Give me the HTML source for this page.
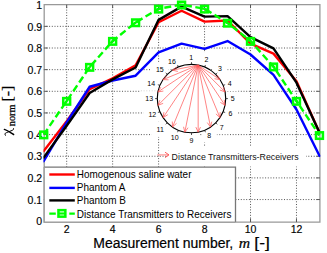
<!DOCTYPE html><html><head><meta charset="utf-8"><style>html,body{margin:0;padding:0;background:#fff;width:327px;height:253px;overflow:hidden}svg{display:block}</style></head><body>
<svg width="327" height="253" viewBox="0 0 327 253">
<rect width="327" height="253" fill="#fff"/>
<path d="M43.70 199.55H319.46 M43.70 177.90H319.46 M43.70 156.25H319.46 M43.70 134.60H319.46 M43.70 112.95H319.46 M43.70 91.30H319.46 M43.70 69.65H319.46 M43.70 48.00H319.46 M43.70 26.35H319.46 M66.68 221.20V4.70 M112.64 221.20V4.70 M158.60 221.20V4.70 M204.56 221.20V4.70 M250.52 221.20V4.70 M296.48 221.20V4.70" stroke="#555" stroke-width="1" stroke-dasharray="1 1.7" fill="none"/>
<text x="42.2" y="225.35" style="font-family:'Liberation Sans',sans-serif" font-size="10.5" text-anchor="end" fill="#000" stroke="#000" stroke-width="0.15">0</text>
<text x="42.2" y="203.70" style="font-family:'Liberation Sans',sans-serif" font-size="10.5" text-anchor="end" fill="#000" stroke="#000" stroke-width="0.15">0.1</text>
<text x="42.2" y="182.05" style="font-family:'Liberation Sans',sans-serif" font-size="10.5" text-anchor="end" fill="#000" stroke="#000" stroke-width="0.15">0.2</text>
<text x="42.2" y="160.40" style="font-family:'Liberation Sans',sans-serif" font-size="10.5" text-anchor="end" fill="#000" stroke="#000" stroke-width="0.15">0.3</text>
<text x="42.2" y="138.75" style="font-family:'Liberation Sans',sans-serif" font-size="10.5" text-anchor="end" fill="#000" stroke="#000" stroke-width="0.15">0.4</text>
<text x="42.2" y="117.10" style="font-family:'Liberation Sans',sans-serif" font-size="10.5" text-anchor="end" fill="#000" stroke="#000" stroke-width="0.15">0.5</text>
<text x="42.2" y="95.45" style="font-family:'Liberation Sans',sans-serif" font-size="10.5" text-anchor="end" fill="#000" stroke="#000" stroke-width="0.15">0.6</text>
<text x="42.2" y="73.80" style="font-family:'Liberation Sans',sans-serif" font-size="10.5" text-anchor="end" fill="#000" stroke="#000" stroke-width="0.15">0.7</text>
<text x="42.2" y="52.15" style="font-family:'Liberation Sans',sans-serif" font-size="10.5" text-anchor="end" fill="#000" stroke="#000" stroke-width="0.15">0.8</text>
<text x="42.2" y="30.50" style="font-family:'Liberation Sans',sans-serif" font-size="10.5" text-anchor="end" fill="#000" stroke="#000" stroke-width="0.15">0.9</text>
<text x="42.2" y="8.85" style="font-family:'Liberation Sans',sans-serif" font-size="10.5" text-anchor="end" fill="#000" stroke="#000" stroke-width="0.15">1</text>
<text x="66.68" y="233.0" style="font-family:'Liberation Sans',sans-serif" font-size="10.5" text-anchor="middle" fill="#000" stroke="#000" stroke-width="0.15">2</text>
<text x="112.64" y="233.0" style="font-family:'Liberation Sans',sans-serif" font-size="10.5" text-anchor="middle" fill="#000" stroke="#000" stroke-width="0.15">4</text>
<text x="158.60" y="233.0" style="font-family:'Liberation Sans',sans-serif" font-size="10.5" text-anchor="middle" fill="#000" stroke="#000" stroke-width="0.15">6</text>
<text x="204.56" y="233.0" style="font-family:'Liberation Sans',sans-serif" font-size="10.5" text-anchor="middle" fill="#000" stroke="#000" stroke-width="0.15">8</text>
<text x="250.52" y="233.0" style="font-family:'Liberation Sans',sans-serif" font-size="10.5" text-anchor="middle" fill="#000" stroke="#000" stroke-width="0.15">10</text>
<text x="296.48" y="233.0" style="font-family:'Liberation Sans',sans-serif" font-size="10.5" text-anchor="middle" fill="#000" stroke="#000" stroke-width="0.15">12</text>
<path d="M44.2 4.7H319.9V222.1H44.2Z" fill="none" stroke="#999" stroke-width="1.3"/>
<path d="M44.2 199.55h3.5M319.9 199.55h-3.5M44.2 177.90h3.5M319.9 177.90h-3.5M44.2 156.25h3.5M319.9 156.25h-3.5M44.2 134.60h3.5M319.9 134.60h-3.5M44.2 112.95h3.5M319.9 112.95h-3.5M44.2 91.30h3.5M319.9 91.30h-3.5M44.2 69.65h3.5M319.9 69.65h-3.5M44.2 48.00h3.5M319.9 48.00h-3.5M44.2 26.35h3.5M319.9 26.35h-3.5M66.68 222.1v-3.5M66.68 4.7v3.5M112.64 222.1v-3.5M112.64 4.7v3.5M158.60 222.1v-3.5M158.60 4.7v3.5M204.56 222.1v-3.5M204.56 4.7v3.5M250.52 222.1v-3.5M250.52 4.7v3.5M296.48 222.1v-3.5M296.48 4.7v3.5" stroke="#555" stroke-width="1" fill="none"/>
<clipPath id="cp"><rect x="43.5" y="0" width="277" height="223"/></clipPath><g clip-path="url(#cp)">
<polyline points="43.70,151.05 66.68,121.18 89.66,89.13 112.64,78.31 135.62,65.32 158.60,22.24 181.58,10.76 204.56,21.59 227.54,20.50 250.52,43.67 273.50,53.63 296.48,81.34 319.46,132.44" fill="none" stroke="#f00" stroke-width="2.4" stroke-linejoin="round" stroke-linecap="round"/>
<polyline points="43.70,161.23 66.68,122.48 89.66,86.75 112.64,80.47 135.62,75.71 158.60,52.33 181.58,43.67 204.56,48.87 227.54,41.07 250.52,54.49 273.50,74.85 296.48,109.49 319.46,155.82" fill="none" stroke="#00f" stroke-width="2.4" stroke-linejoin="round" stroke-linecap="round"/>
<polyline points="43.70,157.55 66.68,125.72 89.66,93.03 112.64,79.39 135.62,67.48 158.60,19.85 181.58,6.65 204.56,16.61 227.54,16.17 250.52,37.17 273.50,48.43 296.48,82.64 319.46,132.44" fill="none" stroke="#000" stroke-width="2.4" stroke-linejoin="round" stroke-linecap="round"/>
<polyline points="43.70,134.60 66.68,101.04 89.66,67.05 112.64,41.07 135.62,22.45 158.60,8.81 181.58,4.70 204.56,8.81 227.54,22.89 250.52,41.07 273.50,66.62 296.48,101.04 319.46,135.25" fill="none" stroke="#0f0" stroke-width="2.4" stroke-dasharray="7 3.5" stroke-linejoin="round"/>
</g>
<path d="M43.70 134.60L45.40 132.12 M66.68 101.04L64.98 103.52 M66.68 101.04L68.36 98.56 M89.66 67.05L87.98 69.54 M89.66 67.05L91.65 64.80 M112.64 41.07L110.65 43.32 M112.64 41.07L114.97 39.18 M135.62 22.45L133.29 24.34 M135.62 22.45L138.20 20.92 M158.60 8.81L156.02 10.34 M158.60 8.81L161.55 8.28 M181.58 4.70L178.63 5.23 M181.58 4.70L184.53 5.23 M204.56 8.81L201.61 8.28 M204.56 8.81L207.12 10.38 M227.54 22.89L224.98 21.32 M227.54 22.89L229.89 24.75 M250.52 41.07L248.17 39.21 M250.52 41.07L252.53 43.30 M273.50 66.62L271.49 64.39 M273.50 66.62L275.17 69.11 M296.48 101.04L294.81 98.55 M296.48 101.04L298.15 103.53 M319.46 135.25L317.79 132.76" stroke="#0f0" stroke-width="2.4" fill="none"/>
<rect x="40.25" y="131.65" width="6.90" height="6.50" fill="none" stroke="#0f0" stroke-width="2.5"/>
<rect x="63.23" y="98.09" width="6.90" height="6.50" fill="none" stroke="#0f0" stroke-width="2.5"/>
<rect x="86.21" y="64.10" width="6.90" height="6.50" fill="none" stroke="#0f0" stroke-width="2.5"/>
<rect x="109.19" y="38.12" width="6.90" height="6.50" fill="none" stroke="#0f0" stroke-width="2.5"/>
<rect x="132.17" y="19.50" width="6.90" height="6.50" fill="none" stroke="#0f0" stroke-width="2.5"/>
<rect x="155.15" y="5.86" width="6.90" height="6.50" fill="none" stroke="#0f0" stroke-width="2.5"/>
<rect x="178.13" y="1.75" width="6.90" height="6.50" fill="none" stroke="#0f0" stroke-width="2.5"/>
<rect x="201.11" y="5.86" width="6.90" height="6.50" fill="none" stroke="#0f0" stroke-width="2.5"/>
<rect x="224.09" y="19.94" width="6.90" height="6.50" fill="none" stroke="#0f0" stroke-width="2.5"/>
<rect x="247.07" y="38.12" width="6.90" height="6.50" fill="none" stroke="#0f0" stroke-width="2.5"/>
<rect x="270.05" y="63.67" width="6.90" height="6.50" fill="none" stroke="#0f0" stroke-width="2.5"/>
<rect x="293.03" y="98.09" width="6.90" height="6.50" fill="none" stroke="#0f0" stroke-width="2.5"/>
<rect x="316.01" y="132.30" width="6.90" height="6.50" fill="none" stroke="#0f0" stroke-width="2.5"/>
<rect x="183.75" y="50.20" width="14.90" height="14.20" fill="#fff"/>
<rect x="199.05" y="52.20" width="14.90" height="14.20" fill="#fff"/>
<rect x="212.45" y="61.30" width="14.90" height="14.20" fill="#fff"/>
<rect x="222.15" y="76.80" width="14.90" height="14.20" fill="#fff"/>
<rect x="225.15" y="91.70" width="14.90" height="14.20" fill="#fff"/>
<rect x="222.95" y="105.90" width="14.90" height="14.20" fill="#fff"/>
<rect x="214.35" y="120.00" width="14.90" height="14.20" fill="#fff"/>
<rect x="201.85" y="128.40" width="14.90" height="14.20" fill="#fff"/>
<rect x="184.05" y="133.00" width="14.90" height="14.20" fill="#fff"/>
<rect x="165.70" y="130.60" width="18.00" height="14.20" fill="#fff"/>
<rect x="151.20" y="122.70" width="18.00" height="14.20" fill="#fff"/>
<rect x="143.30" y="107.30" width="18.00" height="14.20" fill="#fff"/>
<rect x="140.20" y="91.10" width="18.00" height="14.20" fill="#fff"/>
<rect x="142.20" y="76.00" width="18.00" height="14.20" fill="#fff"/>
<rect x="150.80" y="61.90" width="18.00" height="14.20" fill="#fff"/>
<rect x="163.00" y="53.90" width="18.00" height="14.20" fill="#fff"/>
<circle cx="191.5" cy="98.6" r="34.2" fill="#fff" stroke="#000" stroke-width="1.15"/>
<path d="M191.50 64.40L191.50 62.20M204.59 67.00L205.43 64.97M215.68 74.42L217.24 72.86M223.10 85.51L225.13 84.67M225.70 98.60L227.90 98.60M223.10 111.69L225.13 112.53M215.68 122.78L217.24 124.34M204.59 130.20L205.43 132.23M191.50 132.80L191.50 135.00M178.41 130.20L177.57 132.23M167.32 122.78L165.76 124.34M159.90 111.69L157.87 112.53M157.30 98.60L155.10 98.60M159.90 85.51L157.87 84.67M167.32 74.42L165.76 72.86M178.41 67.00L177.57 64.97" stroke="#222" stroke-width="0.8" fill="none"/>
<path d="M198.17 65.06L219.94 79.60 M214.50 78.73L219.94 79.60L217.06 74.91 M198.17 65.06L225.04 91.93 M219.88 90.02L225.04 91.93L223.13 86.77 M198.17 65.06L225.04 105.27 M220.35 102.39L225.04 105.27L224.18 99.84 M198.17 65.06L219.94 117.60 M215.90 113.86L219.94 117.60L220.15 112.10 M198.17 65.06L210.50 127.04 M207.27 122.58L210.50 127.04L211.78 121.68 M198.17 65.06L198.17 132.14 M195.87 127.14L198.17 132.14L200.47 127.14 M198.17 65.06L184.83 132.14 M183.55 126.79L184.83 132.14L188.06 127.69 M198.17 65.06L172.50 127.04 M172.29 121.54L172.50 127.04L176.54 123.30 M198.17 65.06L163.06 117.60 M163.93 112.17L163.06 117.60L167.75 114.72 M198.17 65.06L157.96 105.27 M159.87 100.11L157.96 105.27L163.12 103.36 M198.17 65.06L157.96 91.93 M160.84 87.24L157.96 91.93L163.39 91.06 M198.17 65.06L163.06 79.60 M166.80 75.56L163.06 79.60L168.56 79.81 M198.17 65.06L172.50 70.16 M176.95 66.93L172.50 70.16L177.85 71.44" stroke="#ff5050" stroke-width="0.7" fill="none"/>
<text x="191.20" y="59.85" style="font-family:'Liberation Sans',sans-serif" font-size="7" text-anchor="middle" fill="#000">1</text>
<text x="206.50" y="61.85" style="font-family:'Liberation Sans',sans-serif" font-size="7" text-anchor="middle" fill="#000">2</text>
<text x="219.90" y="70.95" style="font-family:'Liberation Sans',sans-serif" font-size="7" text-anchor="middle" fill="#000">3</text>
<text x="229.60" y="86.45" style="font-family:'Liberation Sans',sans-serif" font-size="7" text-anchor="middle" fill="#000">4</text>
<text x="232.60" y="101.35" style="font-family:'Liberation Sans',sans-serif" font-size="7" text-anchor="middle" fill="#000">5</text>
<text x="230.40" y="115.55" style="font-family:'Liberation Sans',sans-serif" font-size="7" text-anchor="middle" fill="#000">6</text>
<text x="221.80" y="129.65" style="font-family:'Liberation Sans',sans-serif" font-size="7" text-anchor="middle" fill="#000">7</text>
<text x="209.30" y="138.05" style="font-family:'Liberation Sans',sans-serif" font-size="7" text-anchor="middle" fill="#000">8</text>
<text x="191.50" y="142.65" style="font-family:'Liberation Sans',sans-serif" font-size="7" text-anchor="middle" fill="#000">9</text>
<text x="174.70" y="140.25" style="font-family:'Liberation Sans',sans-serif" font-size="7" text-anchor="middle" fill="#000">10</text>
<text x="160.20" y="132.35" style="font-family:'Liberation Sans',sans-serif" font-size="7" text-anchor="middle" fill="#000">11</text>
<text x="152.30" y="116.95" style="font-family:'Liberation Sans',sans-serif" font-size="7" text-anchor="middle" fill="#000">12</text>
<text x="149.20" y="100.75" style="font-family:'Liberation Sans',sans-serif" font-size="7" text-anchor="middle" fill="#000">13</text>
<text x="151.20" y="85.65" style="font-family:'Liberation Sans',sans-serif" font-size="7" text-anchor="middle" fill="#000">14</text>
<text x="159.80" y="71.55" style="font-family:'Liberation Sans',sans-serif" font-size="7" text-anchor="middle" fill="#000">15</text>
<text x="172.00" y="63.55" style="font-family:'Liberation Sans',sans-serif" font-size="7" text-anchor="middle" fill="#000">16</text>
<rect x="168" y="147" width="138" height="19.5" fill="#fff"/>
<path d="M157.4 154.9H168.2" stroke="#ff9a9a" stroke-width="1.3" fill="none"/>
<path d="M165 152.2L169 154.9L165 157.6" stroke="#ff4a4a" stroke-width="0.9" fill="none"/>
<text x="171.59" y="159.80" style="font-family:'Liberation Sans',sans-serif;" font-size="9.3" textLength="127.05" lengthAdjust="spacingAndGlyphs" fill="#111" >Distance Transmitters-Receivers</text>
<rect x="44.2" y="167.1" width="191.3" height="55" fill="#fff"/>
<path d="M44.2 167.1H235.5V222.1" fill="none" stroke="#777" stroke-width="1.3"/>
<path d="M44.2 167.1V222.1H235.5" fill="none" stroke="#999" stroke-width="1.3"/>
<path d="M49.3 174.5H74.8" stroke="#f00" stroke-width="2.4"/>
<path d="M49.3 187.9H74.8" stroke="#00f" stroke-width="2.4"/>
<path d="M49.3 200.4H74.8" stroke="#000" stroke-width="2.4"/>
<path d="M49.3 213.6H74.8" stroke="#0f0" stroke-width="2.4" stroke-dasharray="6.5 3.5"/>
<rect x="58.45" y="210.15" width="6.9" height="6.5" fill="#fff" stroke="#0f0" stroke-width="2.5"/>
<path d="M58 213.5H66" stroke="#0f0" stroke-width="2.2"/>
<text x="76.79" y="178.00" style="font-family:'Liberation Sans',sans-serif;" font-size="10.4" textLength="114.66" lengthAdjust="spacingAndGlyphs" fill="#000" >Homogenous saline water</text>
<text x="76.79" y="191.30" style="font-family:'Liberation Sans',sans-serif;" font-size="10.4" textLength="48.64" lengthAdjust="spacingAndGlyphs" fill="#000" >Phantom A</text>
<text x="76.79" y="204.40" style="font-family:'Liberation Sans',sans-serif;" font-size="10.4" textLength="49.14" lengthAdjust="spacingAndGlyphs" fill="#000" >Phantom B</text>
<text x="76.79" y="217.50" style="font-family:'Liberation Sans',sans-serif;" font-size="10.4" textLength="154.61" lengthAdjust="spacingAndGlyphs" fill="#000" >Distance Transmitters to Receivers</text>
<text x="93.25" y="248.40" style="font-family:'Liberation Sans',sans-serif;" font-size="14" textLength="139.97" lengthAdjust="spacingAndGlyphs" fill="#000" stroke="#000" stroke-width="0.2">Measurement number,</text>
<text x="238.80" y="248.40" style="font-family:'Liberation Serif',serif;font-style:italic;" font-size="14.5" textLength="11.37" lengthAdjust="spacingAndGlyphs" fill="#000" stroke="#000" stroke-width="0.2">m</text>
<text x="254.36" y="248.40" style="font-family:'Liberation Sans',sans-serif;" font-size="14" textLength="15.48" lengthAdjust="spacingAndGlyphs" fill="#000" stroke="#000" stroke-width="0.2">[-]</text>
<path d="M4.4 129.4C8 130.6 10.5 132.6 13.6 134.5" stroke="#000" stroke-width="1.5" fill="none" stroke-linecap="round"/>
<path d="M13.1 128.0C14.0 128.6 13.6 129.8 12.4 130.3L6.5 132.6C4.6 133.3 4.2 134.6 5.9 135.5" stroke="#000" stroke-width="1.0" fill="none"/>
<text transform="rotate(-90)" x="-126.23" y="15.00" style="font-family:'Liberation Serif',serif;" font-size="11" textLength="21.59" lengthAdjust="spacingAndGlyphs" fill="#000" stroke="#000" stroke-width="0.25">norm</text>
<text transform="rotate(-90)" x="-101.48" y="11.80" style="font-family:'Liberation Serif',serif;" font-size="15.5" textLength="15.90" lengthAdjust="spacingAndGlyphs" fill="#000" stroke="#000" stroke-width="0.25">[-]</text>
</svg></body></html>
